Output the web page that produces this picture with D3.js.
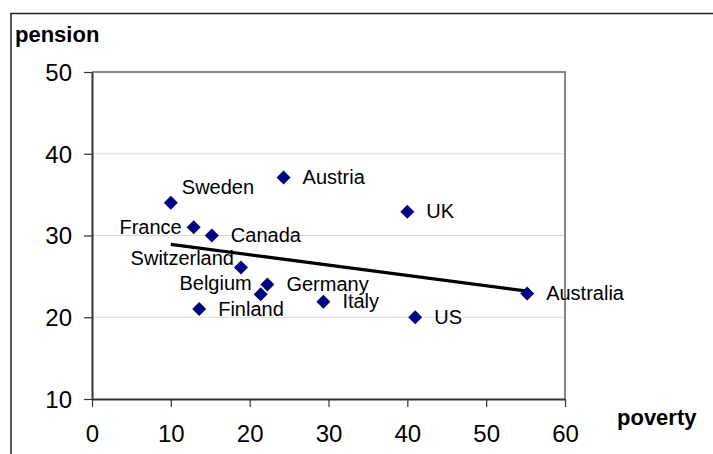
<!DOCTYPE html>
<html>
<head>
<meta charset="utf-8">
<script src="https://cdn.jsdelivr.net/npm/d3@7"></script>
<style>
  body { margin: 0; background: #fff; }
  text { font-family: "Liberation Sans", Arial, sans-serif; fill: #000; }
</style>
</head>
<body>
<svg></svg>
<script>
width = 713;
height = 454;

// data
countries = ['Sweden', 'France', 'Canada', 'Austria', 'Switzerland', 'Belgium',
  'Germany', 'Finland', 'Italy', 'UK', 'US', 'Australia'];
poverty = [10, 12.9, 15.2, 24.3, 18.9, 21.4, 22.25, 13.6, 29.35, 40, 41, 55.2];
pension = [34, 31, 30, 37.1, 26.1, 22.8, 24, 21, 21.9, 32.9, 20, 22.9];
xTicks = [0, 10, 20, 30, 40, 50, 60];
yTicks = [10, 20, 30, 40, 50];

// label placement (layout only)
labelPos = {
  Sweden: { anchor: 'start', dx: 11, dy: -9 },
  France: { anchor: 'end', dx: -12, dy: 7 },
  Switzerland: { anchor: 'end', dx: -7, dy: -2 },
  Belgium: { anchor: 'end', dx: -9, dy: -4 }
};

svg = d3.select('svg')
  .attr('width', width)
  .attr('height', height);

// chart frame, runs off the right and bottom edge
svg.append('rect')
  .attr('x', 11).attr('y', 13.5)
  .attr('width', width).attr('height', height)
  .attr('fill', 'none')
  .attr('stroke', '#222')
  .attr('stroke-width', 1.5);

x = d3.scaleLinear().domain([0, 60]).range([92, 565]);
y = d3.scaleLinear().domain([10, 50]).range([399, 72]);

// gridlines
svg.selectAll('.grid')
  .data(yTicks.slice(1, -1))
  .enter().append('line')
  .attr('x1', x(0)).attr('x2', x(60))
  .attr('y1', d => y(d)).attr('y2', d => y(d))
  .attr('stroke', '#d9d9d9')
  .attr('stroke-width', 1.2);

// top and right border of plot area
svg.append('path')
  .attr('d', `M${x(0)},${y(50)}H${x(60)}V${y(10)}`)
  .attr('fill', 'none')
  .attr('stroke', '#888')
  .attr('stroke-width', 2);

xAxis = svg.append('g')
  .attr('transform', `translate(0,${y(10)})`)
  .call(d3.axisBottom(x).tickValues(xTicks).tickSize(8).tickPadding(18).tickSizeOuter(0));
yAxis = svg.append('g')
  .attr('transform', `translate(${x(0)},0)`)
  .call(d3.axisLeft(y).tickValues(yTicks).tickSize(8).tickPadding(12).tickSizeOuter(0));

[xAxis, yAxis].forEach(g => {
  g.select('.domain').attr('stroke', '#333').attr('stroke-width', 2);
  g.selectAll('.tick line').attr('stroke', '#333').attr('stroke-width', 1.2);
  g.selectAll('.tick text')
    .attr('font-family', '"Liberation Sans", Arial, sans-serif')
    .attr('font-size', 24)
    .attr('fill', '#000');
});
yAxis.selectAll('.tick text').attr('dy', '0.35em');

// axis titles
svg.append('text')
  .attr('x', 15).attr('y', 42)
  .attr('font-size', 22).attr('font-weight', 'bold')
  .text('pension');
svg.append('text')
  .attr('x', 617).attr('y', 425)
  .attr('font-size', 22).attr('font-weight', 'bold')
  .text('poverty');

points = countries.map((c, i) => ({ name: c, x: poverty[i], y: pension[i] }));

// linear trend
fit = (() => {
  mx = d3.mean(points, d => d.x);
  my = d3.mean(points, d => d.y);
  b = d3.sum(points, d => (d.x - mx) * (d.y - my)) / d3.sum(points, d => (d.x - mx) ** 2);
  return v => my + b * (v - mx);
})();
xr = d3.extent(points, d => d.x);
svg.append('line')
  .attr('x1', x(xr[0])).attr('y1', y(fit(xr[0])))
  .attr('x2', x(xr[1])).attr('y2', y(fit(xr[1])))
  .attr('stroke', '#000')
  .attr('stroke-width', 3.2);

diamond = d3.symbol().type(d3.symbolSquare).size(98);
svg.selectAll('.pt')
  .data(points)
  .enter().append('path')
  .attr('d', diamond)
  .attr('transform', d => `translate(${x(d.x)},${y(d.y)}) rotate(45)`)
  .attr('fill', '#000080');

svg.selectAll('.lbl')
  .data(points)
  .enter().append('text')
  .attr('x', d => x(d.x) + (labelPos[d.name] ? labelPos[d.name].dx : 19))
  .attr('y', d => y(d.y) + (labelPos[d.name] ? labelPos[d.name].dy : 6.7))
  .attr('text-anchor', d => labelPos[d.name] ? labelPos[d.name].anchor : 'start')
  .attr('font-size', 20)
  .text(d => d.name);
</script>
</body>
</html>
